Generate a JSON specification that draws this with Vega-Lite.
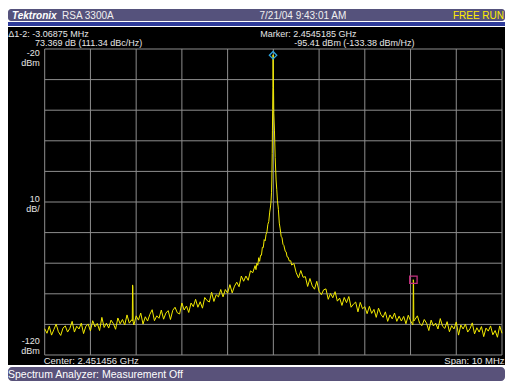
{
  "$schema": "https://vega.github.io/schema/vega-lite/v6.json",
  "background": "#ffffff",
  "padding": {"left": 8, "top": 9, "right": 12, "bottom": 11},
  "spacing": 1,
  "config": {"view": {"stroke": null}, "font": "Liberation Sans"},
  "vconcat": [
    {
      "width": 497,
      "height": 12,
      "view": {"fill": "#55527c", "stroke": null, "cornerRadius": 3},
      "data": {"values": [
        {"item": "Tektronix", "slot": "left"},
        {"item": "RSA 3300A", "slot": "left2"},
        {"item": "7/21/04 9:43:01 AM", "slot": "mid"},
        {"item": "FREE RUN", "slot": "right"}
      ]},
      "encoding": {
        "x": {"field": "slot", "type": "nominal", "axis": null,
              "scale": {"type": "point", "domain": ["left", "mid", "right"], "padding": 0}},
        "text": {"field": "item"}
      },
      "layer": [
        {"transform": [{"filter": "datum.slot == 'left'"}],
         "encoding": {"x": {"datum": "left", "type": "nominal", "axis": null, "scale": {"type": "point", "domain": ["left", "mid", "right"], "padding": 0}}},
         "mark": {"type": "text", "align": "left", "baseline": "middle", "dx": 4, "dy": 0.5, "color": "#ffffff", "fontSize": 10, "fontWeight": "bold", "fontStyle": "italic"}},
        {"transform": [{"filter": "datum.slot == 'left2'"}],
         "encoding": {"x": {"datum": "left", "type": "nominal", "axis": null, "scale": {"type": "point", "domain": ["left", "mid", "right"], "padding": 0}}},
         "mark": {"type": "text", "align": "left", "baseline": "middle", "dx": 54, "dy": 0.5, "color": "#f0f0f0", "fontSize": 10}},
        {"transform": [{"filter": "datum.slot == 'mid'"}],
         "mark": {"type": "text", "align": "left", "baseline": "middle", "dx": 3, "dy": 0.5, "color": "#f0f0f0", "fontSize": 10}},
        {"transform": [{"filter": "datum.slot == 'right'"}],
         "mark": {"type": "text", "align": "right", "baseline": "middle", "dx": -1, "dy": 0.5, "color": "#ffee00", "fontSize": 10}}
      ]
    },
    {
      "width": 497,
      "height": 4,
      "view": {"fill": "#2e3b9a", "stroke": null},
      "data": {"values": []},
      "mark": {"type": "point"}
    },
    {
      "width": 497,
      "height": 338,
      "view": {"fill": "#000000", "stroke": null},
      "layer": [
        {
          "data": {"values": [{"f": -5}, {"f": -4}, {"f": -3}, {"f": -2}, {"f": -1}, {"f": 0}, {"f": 1}, {"f": 2}, {"f": 3}, {"f": 4}, {"f": 5}]},
          "mark": {"type": "rule", "color": "#8e8e8e", "strokeWidth": 1},
          "encoding": {
            "x": {"field": "f", "type": "quantitative", "axis": null,
                  "scale": {"domain": [-5.8025, 5.0656], "nice": false, "zero": false}},
            "y": {"datum": -120, "type": "quantitative", "axis": null,
                  "scale": {"domain": [-123.268, -12.81], "nice": false, "zero": false}},
            "y2": {"datum": -20}
          }
        },
        {
          "data": {"values": [{"dbm": -120}, {"dbm": -110}, {"dbm": -100}, {"dbm": -90}, {"dbm": -80}, {"dbm": -70}, {"dbm": -60}, {"dbm": -50}, {"dbm": -40}, {"dbm": -30}, {"dbm": -20}]},
          "mark": {"type": "rule", "color": "#8e8e8e", "strokeWidth": 1},
          "encoding": {
            "y": {"field": "dbm", "type": "quantitative"},
            "x": {"datum": -5, "type": "quantitative"},
            "x2": {"datum": 5}
          }
        },
        {
          "data": {"values": [
            {"f": -5.00, "dbm": -111.4}, {"f": -4.95, "dbm": -112.9}, {"f": -4.90, "dbm": -110.6}, {"f": -4.85, "dbm": -113.5},
            {"f": -4.80, "dbm": -111.7}, {"f": -4.75, "dbm": -109.9}, {"f": -4.70, "dbm": -112.4}, {"f": -4.65, "dbm": -113.6},
            {"f": -4.60, "dbm": -111.2}, {"f": -4.55, "dbm": -110.5}, {"f": -4.50, "dbm": -112.5}, {"f": -4.45, "dbm": -111.3},
            {"f": -4.40, "dbm": -109.0}, {"f": -4.35, "dbm": -112.5}, {"f": -4.30, "dbm": -110.6}, {"f": -4.25, "dbm": -111.5},
            {"f": -4.20, "dbm": -109.6}, {"f": -4.15, "dbm": -113.0}, {"f": -4.10, "dbm": -110.6}, {"f": -4.05, "dbm": -109.9},
            {"f": -4.00, "dbm": -112.1}, {"f": -3.95, "dbm": -108.8}, {"f": -3.90, "dbm": -110.8}, {"f": -3.85, "dbm": -109.7},
            {"f": -3.80, "dbm": -112.0}, {"f": -3.75, "dbm": -107.7}, {"f": -3.70, "dbm": -111.0}, {"f": -3.65, "dbm": -109.6},
            {"f": -3.60, "dbm": -111.2}, {"f": -3.55, "dbm": -108.6}, {"f": -3.50, "dbm": -109.7}, {"f": -3.45, "dbm": -111.6},
            {"f": -3.40, "dbm": -107.9}, {"f": -3.35, "dbm": -109.8}, {"f": -3.30, "dbm": -108.4}, {"f": -3.25, "dbm": -110.2},
            {"f": -3.20, "dbm": -106.9}, {"f": -3.15, "dbm": -109.6}, {"f": -3.10, "dbm": -108.5}, {"f": -3.085, "dbm": -108.9},
            {"f": -3.078, "dbm": -97.1}, {"f": -3.072, "dbm": -97.8}, {"f": -3.066, "dbm": -109.2}, {"f": -3.05, "dbm": -110.2},
            {"f": -3.00, "dbm": -107.2}, {"f": -2.95, "dbm": -108.6}, {"f": -2.90, "dbm": -106.3}, {"f": -2.85, "dbm": -109.9},
            {"f": -2.80, "dbm": -107.5}, {"f": -2.75, "dbm": -108.9}, {"f": -2.70, "dbm": -106.7}, {"f": -2.65, "dbm": -105.2},
            {"f": -2.60, "dbm": -108.8}, {"f": -2.55, "dbm": -107.2}, {"f": -2.50, "dbm": -108.0}, {"f": -2.45, "dbm": -105.3},
            {"f": -2.40, "dbm": -108.3}, {"f": -2.35, "dbm": -106.3}, {"f": -2.30, "dbm": -105.5}, {"f": -2.25, "dbm": -108.4},
            {"f": -2.20, "dbm": -105.4}, {"f": -2.15, "dbm": -104.4}, {"f": -2.10, "dbm": -106.2}, {"f": -2.05, "dbm": -106.6},
            {"f": -2.00, "dbm": -103.0}, {"f": -1.95, "dbm": -105.3}, {"f": -1.90, "dbm": -104.0}, {"f": -1.85, "dbm": -106.1},
            {"f": -1.80, "dbm": -103.0}, {"f": -1.75, "dbm": -104.2}, {"f": -1.70, "dbm": -101.8}, {"f": -1.65, "dbm": -104.4},
            {"f": -1.60, "dbm": -102.6}, {"f": -1.55, "dbm": -104.7}, {"f": -1.50, "dbm": -101.2}, {"f": -1.45, "dbm": -102.2},
            {"f": -1.40, "dbm": -102.7}, {"f": -1.35, "dbm": -99.5}, {"f": -1.30, "dbm": -102.5}, {"f": -1.25, "dbm": -100.3},
            {"f": -1.20, "dbm": -101.0}, {"f": -1.15, "dbm": -98.6}, {"f": -1.10, "dbm": -101.0}, {"f": -1.05, "dbm": -98.6},
            {"f": -1.00, "dbm": -99.8}, {"f": -0.95, "dbm": -97.0}, {"f": -0.90, "dbm": -99.7}, {"f": -0.85, "dbm": -97.5},
            {"f": -0.80, "dbm": -96.2}, {"f": -0.75, "dbm": -97.7}, {"f": -0.70, "dbm": -94.2}, {"f": -0.65, "dbm": -95.9},
            {"f": -0.60, "dbm": -94.2}, {"f": -0.55, "dbm": -95.6}, {"f": -0.50, "dbm": -92.5}, {"f": -0.45, "dbm": -93.1},
            {"f": -0.40, "dbm": -90.8}, {"f": -0.38, "dbm": -92.1}, {"f": -0.36, "dbm": -90.0}, {"f": -0.34, "dbm": -90.7},
            {"f": -0.32, "dbm": -88.2}, {"f": -0.30, "dbm": -89.4}, {"f": -0.28, "dbm": -87.4}, {"f": -0.26, "dbm": -87.4},
            {"f": -0.24, "dbm": -84.8}, {"f": -0.22, "dbm": -84.9}, {"f": -0.20, "dbm": -82.3}, {"f": -0.18, "dbm": -82.7},
            {"f": -0.16, "dbm": -80.6}, {"f": -0.14, "dbm": -79.8}, {"f": -0.12, "dbm": -77.3}, {"f": -0.10, "dbm": -76.4},
            {"f": -0.08, "dbm": -73.3}, {"f": -0.06, "dbm": -71.3}, {"f": -0.05, "dbm": -69.6}, {"f": -0.04, "dbm": -66.8},
            {"f": -0.033, "dbm": -62.8}, {"f": -0.025, "dbm": -54.2}, {"f": -0.02, "dbm": -46.5}, {"f": -0.015, "dbm": -39.8},
            {"f": -0.01, "dbm": -32.5}, {"f": -0.006, "dbm": -21.9}, {"f": 0.004, "dbm": -33.0}, {"f": 0.01, "dbm": -41.0},
            {"f": 0.024, "dbm": -46.5}, {"f": 0.04, "dbm": -55.5}, {"f": 0.06, "dbm": -62.8}, {"f": 0.075, "dbm": -66.0},
            {"f": 0.09, "dbm": -69.6}, {"f": 0.11, "dbm": -72.4}, {"f": 0.13, "dbm": -76.9}, {"f": 0.15, "dbm": -78.8},
            {"f": 0.17, "dbm": -81.2}, {"f": 0.19, "dbm": -81.7}, {"f": 0.21, "dbm": -83.8}, {"f": 0.23, "dbm": -84.2},
            {"f": 0.26, "dbm": -86.1}, {"f": 0.28, "dbm": -86.3}, {"f": 0.30, "dbm": -87.9}, {"f": 0.32, "dbm": -88.0},
            {"f": 0.35, "dbm": -89.3}, {"f": 0.38, "dbm": -89.2}, {"f": 0.40, "dbm": -90.6}, {"f": 0.45, "dbm": -90.1},
            {"f": 0.50, "dbm": -93.1}, {"f": 0.55, "dbm": -94.8}, {"f": 0.60, "dbm": -92.4}, {"f": 0.65, "dbm": -94.6},
            {"f": 0.70, "dbm": -94.4}, {"f": 0.75, "dbm": -97.6}, {"f": 0.80, "dbm": -95.0}, {"f": 0.85, "dbm": -97.4},
            {"f": 0.90, "dbm": -98.5}, {"f": 0.95, "dbm": -95.9}, {"f": 1.00, "dbm": -99.2}, {"f": 1.05, "dbm": -100.3},
            {"f": 1.10, "dbm": -98.7}, {"f": 1.15, "dbm": -98.4}, {"f": 1.20, "dbm": -101.8}, {"f": 1.25, "dbm": -99.9},
            {"f": 1.30, "dbm": -101.3}, {"f": 1.35, "dbm": -99.3}, {"f": 1.40, "dbm": -102.4}, {"f": 1.45, "dbm": -101.4},
            {"f": 1.50, "dbm": -103.8}, {"f": 1.55, "dbm": -101.2}, {"f": 1.60, "dbm": -102.9}, {"f": 1.65, "dbm": -100.9},
            {"f": 1.70, "dbm": -104.4}, {"f": 1.75, "dbm": -103.4}, {"f": 1.80, "dbm": -102.7}, {"f": 1.85, "dbm": -105.9},
            {"f": 1.90, "dbm": -102.8}, {"f": 1.95, "dbm": -104.9}, {"f": 2.00, "dbm": -104.2}, {"f": 2.05, "dbm": -106.5},
            {"f": 2.10, "dbm": -104.1}, {"f": 2.15, "dbm": -106.4}, {"f": 2.20, "dbm": -105.1}, {"f": 2.25, "dbm": -107.7},
            {"f": 2.30, "dbm": -104.7}, {"f": 2.35, "dbm": -106.7}, {"f": 2.40, "dbm": -107.7}, {"f": 2.45, "dbm": -105.9},
            {"f": 2.50, "dbm": -109.0}, {"f": 2.55, "dbm": -106.9}, {"f": 2.60, "dbm": -108.2}, {"f": 2.65, "dbm": -106.3},
            {"f": 2.70, "dbm": -109.0}, {"f": 2.75, "dbm": -107.3}, {"f": 2.80, "dbm": -108.9}, {"f": 2.85, "dbm": -107.4},
            {"f": 2.90, "dbm": -109.8}, {"f": 2.95, "dbm": -107.0}, {"f": 3.00, "dbm": -108.8}, {"f": 3.05, "dbm": -110.2},
            {"f": 3.056, "dbm": -108.4}, {"f": 3.06, "dbm": -95.4}, {"f": 3.066, "dbm": -95.9}, {"f": 3.072, "dbm": -108.9},
            {"f": 3.10, "dbm": -108.3}, {"f": 3.15, "dbm": -107.2}, {"f": 3.20, "dbm": -109.7}, {"f": 3.25, "dbm": -110.4},
            {"f": 3.30, "dbm": -108.4}, {"f": 3.35, "dbm": -109.6}, {"f": 3.40, "dbm": -112.0}, {"f": 3.45, "dbm": -108.6},
            {"f": 3.50, "dbm": -110.5}, {"f": 3.55, "dbm": -109.6}, {"f": 3.60, "dbm": -111.5}, {"f": 3.65, "dbm": -108.1},
            {"f": 3.70, "dbm": -110.6}, {"f": 3.75, "dbm": -111.3}, {"f": 3.80, "dbm": -109.1}, {"f": 3.85, "dbm": -112.4},
            {"f": 3.90, "dbm": -110.4}, {"f": 3.95, "dbm": -111.5}, {"f": 4.00, "dbm": -109.2}, {"f": 4.05, "dbm": -113.5},
            {"f": 4.10, "dbm": -110.2}, {"f": 4.15, "dbm": -111.5}, {"f": 4.20, "dbm": -109.9}, {"f": 4.25, "dbm": -112.5},
            {"f": 4.30, "dbm": -111.4}, {"f": 4.35, "dbm": -109.5}, {"f": 4.40, "dbm": -113.1}, {"f": 4.45, "dbm": -111.1},
            {"f": 4.50, "dbm": -112.5}, {"f": 4.55, "dbm": -110.7}, {"f": 4.60, "dbm": -114.0}, {"f": 4.65, "dbm": -111.2},
            {"f": 4.70, "dbm": -112.2}, {"f": 4.75, "dbm": -110.5}, {"f": 4.80, "dbm": -113.4}, {"f": 4.85, "dbm": -112.0},
            {"f": 4.90, "dbm": -114.2}, {"f": 4.95, "dbm": -110.5}, {"f": 5.00, "dbm": -112.9}
          ]},
          "mark": {"type": "line", "color": "#f2ea00", "strokeWidth": 1, "clip": true},
          "encoding": {
            "x": {"field": "f", "type": "quantitative"},
            "y": {"field": "dbm", "type": "quantitative"}
          }
        },
        {
          "data": {"values": [
            {"marker": "1", "f": -0.00625, "dbm": -22.04},
            {"marker": "2", "f": 3.0625, "dbm": -95.41}
          ]},
          "mark": {"type": "point", "filled": false, "size": 55, "strokeWidth": 1.3, "opacity": 1},
          "encoding": {
            "x": {"field": "f", "type": "quantitative"},
            "y": {"field": "dbm", "type": "quantitative"},
            "shape": {"field": "marker", "type": "nominal", "legend": null,
                      "scale": {"domain": ["1", "2"], "range": ["diamond", "square"]}},
            "color": {"field": "marker", "type": "nominal", "legend": null,
                      "scale": {"domain": ["1", "2"], "range": ["#2ea3dc", "#c2307e"]}}
          }
        },
        {
          "data": {"values": [{"t": "-20|dBm"}]},
          "mark": {"type": "text", "align": "right", "baseline": "top", "dx": -5, "dy": 0, "lineBreak": "|", "lineHeight": 9.5, "color": "#e6e6e6", "fontSize": 9},
          "encoding": {"x": {"datum": -5}, "y": {"datum": -20}, "text": {"field": "t"}}
        },
        {
          "data": {"values": [{"t": "10|dB/"}]},
          "mark": {"type": "text", "align": "right", "baseline": "middle", "dx": -5, "dy": -3.5, "lineBreak": "|", "lineHeight": 10, "color": "#e6e6e6", "fontSize": 9},
          "encoding": {"x": {"datum": -5}, "y": {"datum": -70}, "text": {"field": "t"}}
        },
        {
          "data": {"values": [{"t": "-120|dBm"}]},
          "mark": {"type": "text", "align": "right", "baseline": "bottom", "dx": -5, "dy": -8.5, "lineBreak": "|", "lineHeight": 10, "color": "#e6e6e6", "fontSize": 9},
          "encoding": {"x": {"datum": -5}, "y": {"datum": -120}, "text": {"field": "t"}}
        },
        {
          "data": {"values": [{"t": "Δ1-2: -3.06875 MHz"}]},
          "mark": {"type": "text", "align": "left", "baseline": "middle", "dx": -36.5, "dy": -15, "color": "#e6e6e6", "fontSize": 9},
          "encoding": {"x": {"datum": -5}, "y": {"datum": -20}, "text": {"field": "t"}}
        },
        {
          "data": {"values": [{"t": "73.369 dB (111.34 dBc/Hz)"}]},
          "mark": {"type": "text", "align": "left", "baseline": "middle", "dx": -9.7, "dy": -6, "color": "#e6e6e6", "fontSize": 9},
          "encoding": {"x": {"datum": -5}, "y": {"datum": -20}, "text": {"field": "t"}}
        },
        {
          "data": {"values": [{"t": "Marker: 2.4545185 GHz"}]},
          "mark": {"type": "text", "align": "left", "baseline": "middle", "dx": -13, "dy": -15, "color": "#e6e6e6", "fontSize": 9},
          "encoding": {"x": {"datum": 0}, "y": {"datum": -20}, "text": {"field": "t"}}
        },
        {
          "data": {"values": [{"t": "-95.41 dBm (-133.38 dBm/Hz)"}]},
          "mark": {"type": "text", "align": "left", "baseline": "middle", "dx": 21, "dy": -6, "color": "#e6e6e6", "fontSize": 9},
          "encoding": {"x": {"datum": 0}, "y": {"datum": -20}, "text": {"field": "t"}}
        },
        {
          "data": {"values": [{"t": "Center: 2.451456 GHz"}]},
          "mark": {"type": "text", "align": "left", "baseline": "middle", "dx": -1, "dy": 6.5, "color": "#e6e6e6", "fontSize": 9.5},
          "encoding": {"x": {"datum": -5}, "y": {"datum": -120}, "text": {"field": "t"}}
        },
        {
          "data": {"values": [{"t": "Span: 10 MHz"}]},
          "mark": {"type": "text", "align": "right", "baseline": "middle", "dx": 2.5, "dy": 6.5, "color": "#e6e6e6", "fontSize": 9.5},
          "encoding": {"x": {"datum": 5}, "y": {"datum": -120}, "text": {"field": "t"}}
        }
      ]
    },
    {
      "width": 497,
      "height": 14,
      "view": {"fill": "#59527a", "stroke": null, "cornerRadius": 4},
      "data": {"values": [{"item": "Spectrum Analyzer: Measurement Off", "slot": "left"}]},
      "mark": {"type": "text", "align": "left", "baseline": "middle", "dx": 0, "dy": 0.5, "color": "#ffffff", "fontSize": 10.5},
      "encoding": {
        "x": {"field": "slot", "type": "nominal", "axis": null,
              "scale": {"type": "point", "domain": ["left", "right"], "padding": 0}},
        "text": {"field": "item"}
      }
    }
  ]
}
